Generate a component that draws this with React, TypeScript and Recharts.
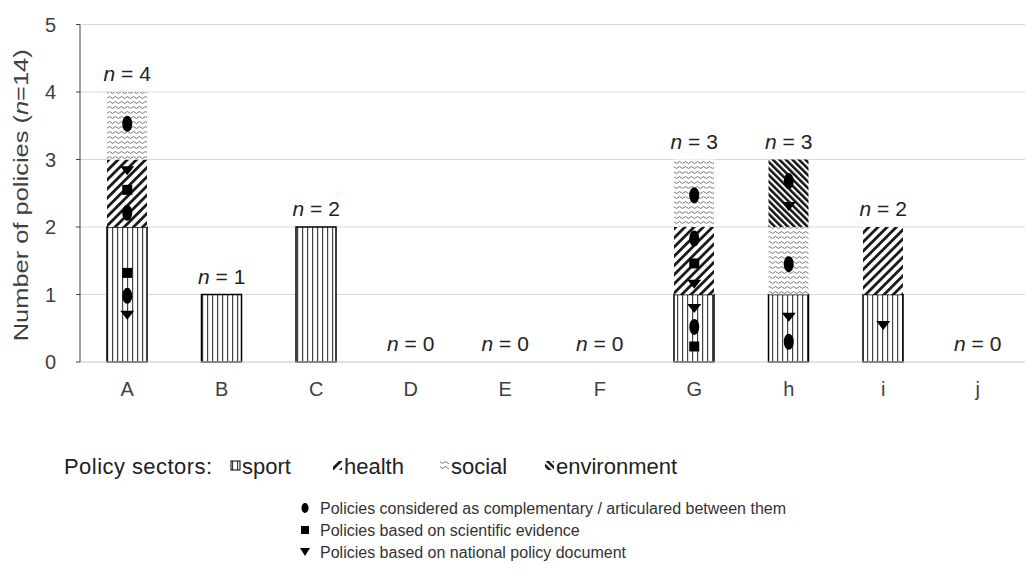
import React from "react";
import { ComposedChart, Bar, Scatter, XAxis, YAxis, CartesianGrid } from "recharts";

const categories = ["A", "B", "C", "D", "E", "F", "G", "h", "i", "j"];
const sport = [2, 1, 2, 0, 0, 0, 1, 1, 1, 0];
const health = [1, 0, 0, 0, 0, 0, 1, 0, 1, 0];
const social = [1, 0, 0, 0, 0, 0, 1, 1, 0, 0];
const environment = [0, 0, 0, 0, 0, 0, 0, 1, 0, 0];
const totals = [4, 1, 2, 0, 0, 0, 3, 3, 2, 0];
const yTicks = [0, 1, 2, 3, 4, 5];

// where the symbols sit inside each bar (y value)
const complementary = [[0.98, 2.21, 3.53], [], [], [], [], [], [0.52, 1.83, 2.47], [0.3, 1.45, 2.68], [], []];
const evidence = [[1.32, 2.55], [], [], [], [], [], [0.23, 1.46], [], [], []];
const national = [[0.7, 2.84], [], [], [], [], [], [0.8, 1.16], [0.67, 2.31], [0.55], []];

const sectorLabels = ["sport", "health", "social", "environment"];
const markerLabels = [
  "Policies considered as complementary / articulared between them",
  "Policies based on scientific evidence",
  "Policies based on national policy document",
];

const data = categories.map((name, i) => {
  const row: Record<string, any> = {
    name,
    sport: sport[i],
    health: health[i],
    social: social[i],
    environment: environment[i],
    total: totals[i],
  };
  complementary[i].forEach((v, k) => (row["c" + k] = v));
  evidence[i].forEach((v, k) => (row["e" + k] = v));
  national[i].forEach((v, k) => (row["t" + k] = v));
  return row;
});

const FONT = "'Liberation Sans', Arial, sans-serif";
const TXT = "#404040";

const ellipseShape = (key: string) => (p: any) =>
  p.payload?.[key] == null ? <g /> : <ellipse cx={p.cx} cy={p.cy} rx={5} ry={8} fill="#000" />;
const squareShape = (key: string) => (p: any) =>
  p.payload?.[key] == null ? <g /> : <rect x={p.cx - 5} y={p.cy - 5} width={10} height={10} fill="#000" />;
const triangleShape = (key: string) => (p: any) =>
  p.payload?.[key] == null ? (
    <g />
  ) : (
    <path d={`M${p.cx - 7},${p.cy - 4} L${p.cx + 7},${p.cy - 4} L${p.cx},${p.cy + 5} Z`} fill="#000" />
  );

const totalLabel = (p: any) => (
  <text x={p.cx} y={p.cy - 11} textAnchor="middle" fontSize={21} fontFamily={FONT} fill="#222">
    <tspan fontStyle="italic">n</tspan> = {p.payload.total}
  </text>
);

const YLabel = (props: any) => {
  const vb = props.viewBox || {};
  const x = vb.x + 22;
  const y = vb.y + vb.height / 2 + 2;
  return (
    <text x={x} y={y} transform={`rotate(-90 ${x} ${y})`} textAnchor="middle" dominantBaseline="middle"
      fontSize={21} fontFamily={FONT} fill={TXT} textLength={292} lengthAdjust="spacingAndGlyphs">
      Number of policies (<tspan fontStyle="italic">n</tspan>=14)
    </text>
  );
};

const Patterns = () => (
  <defs>
    <pattern id="pSport" width={5} height={10} patternUnits="userSpaceOnUse">
      <rect width={5} height={10} fill="#fff" />
      <rect x={2} width={1.2} height={10} fill="#444" />
    </pattern>
    <pattern id="pHealth" width={6.5} height={6.5} patternUnits="userSpaceOnUse" patternTransform="rotate(45)">
      <rect width={6.5} height={6.5} fill="#fff" />
      <rect width={2.8} height={6.5} fill="#1a1a1a" />
    </pattern>
    <pattern id="pSocial" width={6} height={5} patternUnits="userSpaceOnUse">
      <rect width={6} height={5} fill="#fff" />
      <path d="M0,2.5 Q1.5,0.6 3,2.5 T6,2.5" fill="none" stroke="#666" strokeWidth={0.9} />
    </pattern>
    <pattern id="pEnv" width={4.6} height={4.6} patternUnits="userSpaceOnUse" patternTransform="rotate(-45)">
      <rect width={4.6} height={4.6} fill="#fff" />
      <rect width={2.5} height={4.6} fill="#111" />
    </pattern>
  </defs>
);

const fills = ["url(#pSport)", "url(#pHealth)", "url(#pSocial)", "url(#pEnv)"];

export default function App() {
  return (
    <div style={{ position: "absolute", left: 0, top: 0, width: 1029, height: 583, background: "#fff", fontFamily: FONT }}>
      <ComposedChart width={1029} height={400} data={data} margin={{ top: 24.5, right: 4, left: 0, bottom: 0 }}>
        <Patterns />
        <CartesianGrid vertical={false} stroke="#d9d9d9" />
        <XAxis dataKey="name" tickLine={false} axisLine={{ stroke: "#d9d9d9" }} height={38} tickMargin={14}
          tick={{ fontSize: 20, fill: TXT, fontFamily: FONT }} />
        <YAxis domain={[0, 5]} ticks={yTicks} width={80} tickSize={4} tickMargin={20}
          axisLine={{ stroke: "#404040" }} tickLine={{ stroke: "#404040" }}
          tick={{ fontSize: 20, fill: TXT, fontFamily: FONT }} label={{ content: YLabel }} />
        <Bar dataKey="sport" stackId="s" barSize={40} fill={fills[0]} stroke="#000" strokeWidth={1.5} isAnimationActive={false} />
        <Bar dataKey="health" stackId="s" barSize={40} fill={fills[1]} isAnimationActive={false} />
        <Bar dataKey="social" stackId="s" barSize={40} fill={fills[2]} isAnimationActive={false} />
        <Bar dataKey="environment" stackId="s" barSize={40} fill={fills[3]} isAnimationActive={false} />
        {[0, 1, 2].map((k) => (
          <Scatter key={"c" + k} dataKey={"c" + k} shape={ellipseShape("c" + k)} isAnimationActive={false} />
        ))}
        {[0, 1].map((k) => (
          <Scatter key={"e" + k} dataKey={"e" + k} shape={squareShape("e" + k)} isAnimationActive={false} />
        ))}
        {[0, 1].map((k) => (
          <Scatter key={"t" + k} dataKey={"t" + k} shape={triangleShape("t" + k)} isAnimationActive={false} />
        ))}
        <Scatter dataKey="total" shape={totalLabel} isAnimationActive={false} />
      </ComposedChart>
      <svg width={1029} height={583} style={{ position: "absolute", left: 0, top: 0, pointerEvents: "none" }}>
        <text x={64} y={474} fontSize={22} fontFamily={FONT} fill="#222" textLength={148}>Policy sectors:</text>
        {sectorLabels.map((s, i) => {
          const xs = [231, 333, 440, 545][i];
          return (
            <g key={s}>
              <rect x={xs} y={461} width={9} height={9} fill={fills[i]} stroke={i === 0 ? "#000" : "none"} strokeWidth={1} />
              <text x={xs + 11} y={474} fontSize={22} fontFamily={FONT} fill="#222">{s}</text>
            </g>
          );
        })}
        {markerLabels.map((m, i) => {
          const y = 508 + i * 22;
          return (
            <g key={m}>
              {i === 0 && <ellipse cx={305} cy={y} rx={3.5} ry={5} fill="#000" />}
              {i === 1 && <rect x={301} y={y - 4} width={8} height={8} fill="#000" />}
              {i === 2 && <path d={`M${300},${y - 4} L${310},${y - 4} L${305},${y + 4} Z`} fill="#000" />}
              <text x={320} y={y + 5.5} fontSize={16} fontFamily={FONT} fill="#333">{m}</text>
            </g>
          );
        })}
      </svg>
    </div>
  );
}
